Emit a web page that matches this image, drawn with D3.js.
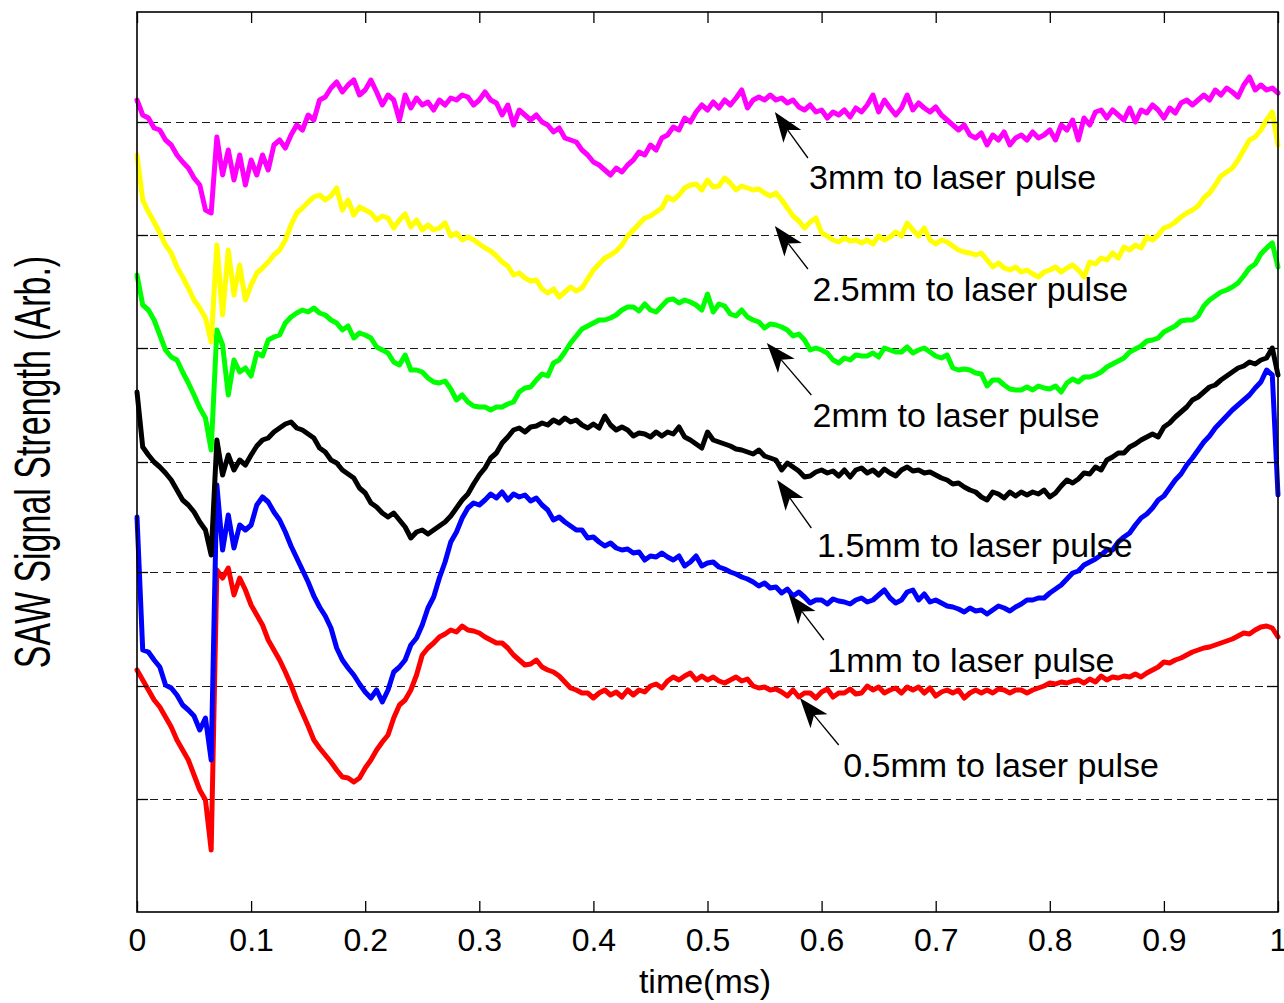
<!DOCTYPE html>
<html><head><meta charset="utf-8">
<script src="https://cdn.jsdelivr.net/npm/d3@7"></script>
<style>
body{margin:0;background:#fff}
svg{display:block}
text{font-family:"Liberation Sans",Arial,Helvetica,sans-serif;fill:#000}
</style>
</head><body><div id="chart"></div>
<script>
// ---------- data ----------
const sampleStepMs = 0.005;           // time step between samples (ms)
const xTickValues = [0,0.1,0.2,0.3,0.4,0.5,0.6,0.7,0.8,0.9,1];
const xTickLabels = ["0","0.1","0.2","0.3","0.4","0.5","0.6","0.7","0.8","0.9","1"];
const gridValues = [1.13,2.26,3.40,4.50,5.64,6.77,7.90];

const seriesNames  = ["0.5mm","1mm","1.5mm","2mm","2.5mm","3mm"];
const seriesColors = ["#ff0000","#0000ff","#000000","#00ff00","#ffff00","#ff00ff"];

const sig05mm = [
2.42,2.32,2.22,2.12,2.05,1.95,1.85,1.72,1.62,1.52,
1.37,1.22,1.12,0.62,3.42,3.34,3.44,3.17,3.34,3.22,
3.07,2.97,2.87,2.72,2.62,2.52,2.40,2.27,2.12,1.99,
1.86,1.72,1.64,1.57,1.50,1.42,1.35,1.34,1.30,1.34,
1.44,1.52,1.62,1.70,1.77,1.94,2.07,2.12,2.22,2.37,
2.57,2.64,2.69,2.75,2.78,2.82,2.80,2.86,2.82,2.81,
2.79,2.75,2.72,2.69,2.69,2.64,2.57,2.52,2.47,2.48,
2.52,2.45,2.42,2.40,2.36,2.30,2.24,2.22,2.19,2.19,
2.14,2.19,2.22,2.17,2.20,2.15,2.22,2.17,2.22,2.20,
2.26,2.28,2.24,2.31,2.35,2.32,2.36,2.39,2.32,2.36,
2.32,2.35,2.31,2.29,2.32,2.35,2.31,2.33,2.26,2.24,
2.25,2.22,2.23,2.20,2.16,2.22,2.15,2.19,2.19,2.14,
2.20,2.23,2.15,2.19,2.19,2.23,2.18,2.19,2.26,2.22,
2.25,2.19,2.22,2.24,2.19,2.25,2.22,2.25,2.19,2.24,
2.16,2.20,2.22,2.19,2.22,2.14,2.19,2.22,2.19,2.22,
2.19,2.23,2.22,2.19,2.22,2.22,2.19,2.22,2.24,2.26,
2.29,2.28,2.30,2.29,2.31,2.32,2.29,2.33,2.30,2.36,
2.32,2.35,2.34,2.36,2.35,2.38,2.35,2.39,2.42,2.45,
2.50,2.49,2.52,2.54,2.57,2.60,2.62,2.64,2.65,2.67,
2.69,2.71,2.73,2.76,2.79,2.78,2.82,2.85,2.86,2.84,
2.75];

const sig1mm = [
3.95,2.62,2.60,2.52,2.45,2.27,2.24,2.17,2.07,2.02,
1.96,1.82,1.94,1.52,4.27,3.62,3.97,3.64,3.87,3.82,
3.87,4.07,4.15,4.10,4.00,3.92,3.80,3.66,3.54,3.42,
3.30,3.16,3.05,2.96,2.84,2.64,2.52,2.44,2.37,2.28,
2.20,2.14,2.22,2.10,2.22,2.40,2.45,2.52,2.67,2.74,
2.87,3.04,3.15,3.34,3.50,3.70,3.80,3.94,4.04,4.09,
4.07,4.12,4.18,4.14,4.20,4.12,4.18,4.15,4.17,4.11,
4.14,4.07,4.02,3.92,3.95,3.90,3.86,3.82,3.82,3.74,
3.75,3.70,3.66,3.69,3.64,3.62,3.63,3.59,3.60,3.52,
3.56,3.55,3.59,3.55,3.52,3.56,3.46,3.50,3.56,3.46,
3.49,3.50,3.45,3.43,3.40,3.38,3.35,3.33,3.30,3.26,
3.29,3.24,3.25,3.19,3.23,3.16,3.20,3.15,3.09,3.12,
3.12,3.08,3.13,3.11,3.10,3.08,3.12,3.14,3.10,3.12,
3.17,3.22,3.14,3.09,3.12,3.20,3.22,3.12,3.18,3.10,
3.12,3.09,3.06,3.05,3.03,3.00,3.04,3.01,3.02,2.98,
3.02,3.06,3.04,3.01,3.05,3.08,3.12,3.12,3.14,3.14,
3.19,3.23,3.27,3.33,3.39,3.41,3.47,3.50,3.53,3.57,
3.62,3.62,3.70,3.75,3.79,3.87,3.94,3.98,4.04,4.12,
4.16,4.24,4.32,4.38,4.47,4.54,4.62,4.70,4.76,4.84,
4.90,4.96,5.02,5.07,5.12,5.17,5.24,5.30,5.42,5.37,
4.17];

const sig15mm = [
5.20,4.65,4.57,4.50,4.45,4.39,4.32,4.22,4.12,4.07,
4.00,3.90,3.82,3.57,4.72,4.37,4.57,4.42,4.52,4.47,
4.57,4.66,4.72,4.74,4.80,4.84,4.88,4.90,4.84,4.82,
4.78,4.74,4.64,4.60,4.52,4.49,4.42,4.38,4.34,4.24,
4.19,4.09,4.05,3.99,3.95,3.99,3.92,3.85,3.74,3.80,
3.82,3.78,3.82,3.86,3.90,3.96,4.04,4.12,4.18,4.28,
4.37,4.44,4.54,4.59,4.69,4.75,4.82,4.84,4.80,4.85,
4.86,4.89,4.87,4.92,4.89,4.94,4.90,4.92,4.87,4.84,
4.88,4.84,4.96,4.87,4.82,4.85,4.82,4.76,4.79,4.78,
4.75,4.80,4.76,4.80,4.78,4.85,4.75,4.72,4.68,4.64,
4.80,4.72,4.70,4.68,4.66,4.63,4.62,4.60,4.58,4.62,
4.56,4.54,4.52,4.42,4.49,4.45,4.41,4.35,4.36,4.40,
4.42,4.39,4.41,4.36,4.42,4.35,4.42,4.44,4.39,4.42,
4.37,4.43,4.39,4.36,4.42,4.45,4.41,4.42,4.39,4.40,
4.37,4.34,4.32,4.28,4.29,4.25,4.22,4.20,4.15,4.12,
4.20,4.18,4.14,4.20,4.16,4.20,4.17,4.20,4.18,4.22,
4.15,4.19,4.26,4.32,4.29,4.33,4.39,4.38,4.45,4.42,
4.52,4.55,4.59,4.59,4.65,4.68,4.72,4.75,4.78,4.75,
4.85,4.89,4.95,5.00,5.05,5.12,5.15,5.20,5.25,5.27,
5.32,5.36,5.40,5.44,5.46,5.50,5.48,5.52,5.54,5.64,
5.37];

const sig2mm = [
6.37,6.07,6.02,5.92,5.77,5.62,5.55,5.52,5.40,5.29,
5.17,5.04,4.94,4.62,5.82,5.67,5.17,5.52,5.40,5.44,
5.36,5.59,5.56,5.72,5.75,5.77,5.89,5.95,5.99,6.02,
6.00,6.04,5.99,5.97,5.92,5.89,5.82,5.86,5.74,5.79,
5.77,5.74,5.65,5.62,5.59,5.50,5.47,5.57,5.42,5.42,
5.40,5.34,5.30,5.29,5.31,5.23,5.12,5.17,5.10,5.06,
5.05,5.05,5.02,5.05,5.05,5.08,5.10,5.20,5.24,5.25,
5.32,5.38,5.36,5.49,5.52,5.60,5.69,5.76,5.83,5.86,
5.89,5.92,5.92,5.94,5.97,6.02,6.05,6.05,6.01,6.08,
6.02,6.00,6.06,6.12,6.13,6.09,6.12,6.10,6.07,6.02,
6.18,6.00,6.08,6.06,5.98,5.96,6.02,5.95,5.92,5.90,
5.84,5.88,5.87,5.85,5.82,5.76,5.78,5.72,5.62,5.64,
5.62,5.59,5.52,5.49,5.54,5.52,5.57,5.56,5.56,5.59,
5.55,5.64,5.62,5.60,5.60,5.65,5.59,5.62,5.64,5.60,
5.56,5.54,5.57,5.44,5.42,5.43,5.42,5.39,5.38,5.26,
5.32,5.32,5.27,5.23,5.22,5.22,5.25,5.22,5.26,5.24,
5.23,5.26,5.20,5.29,5.33,5.30,5.35,5.35,5.37,5.40,
5.45,5.48,5.51,5.54,5.60,5.63,5.66,5.71,5.72,5.74,
5.80,5.83,5.86,5.91,5.92,5.92,5.96,6.06,6.12,6.16,
6.20,6.22,6.25,6.29,6.36,6.44,6.48,6.58,6.64,6.69,
6.45];

const sig25mm = [
7.57,7.12,7.00,6.90,6.79,6.67,6.59,6.45,6.35,6.24,
6.12,6.04,5.94,5.70,6.67,5.97,6.62,6.17,6.47,6.12,
6.27,6.39,6.44,6.50,6.57,6.62,6.72,6.87,6.99,7.04,
7.10,7.15,7.17,7.12,7.16,7.24,7.02,7.12,6.97,7.05,
7.02,6.99,6.92,6.96,6.94,6.84,6.92,6.98,6.85,6.92,
6.82,6.87,6.82,6.84,6.89,6.76,6.79,6.72,6.75,6.72,
6.68,6.64,6.61,6.56,6.50,6.46,6.37,6.39,6.34,6.31,
6.32,6.23,6.19,6.23,6.15,6.20,6.25,6.21,6.24,6.33,
6.42,6.48,6.54,6.57,6.61,6.67,6.76,6.82,6.88,6.94,
6.96,7.00,7.04,7.15,7.12,7.17,7.24,7.27,7.28,7.22,
7.32,7.25,7.26,7.34,7.29,7.22,7.26,7.24,7.22,7.23,
7.19,7.16,7.19,7.12,7.04,6.96,6.91,6.84,6.90,6.94,
6.79,6.76,6.72,6.70,6.74,6.71,6.72,6.69,6.72,6.68,
6.76,6.72,6.75,6.80,6.76,6.89,6.82,6.76,6.84,6.72,
6.68,6.72,6.70,6.66,6.62,6.60,6.59,6.57,6.59,6.52,
6.45,6.49,6.44,6.42,6.45,6.40,6.42,6.38,6.35,6.40,
6.42,6.45,6.40,6.44,6.47,6.42,6.35,6.50,6.48,6.54,
6.52,6.59,6.54,6.65,6.62,6.67,6.64,6.75,6.72,6.77,
6.84,6.86,6.90,6.95,6.99,7.02,7.06,7.14,7.19,7.27,
7.36,7.40,7.44,7.52,7.62,7.72,7.75,7.82,7.92,8.00,
7.67];

const sig3mm = [
8.12,7.97,7.94,7.84,7.82,7.72,7.67,7.57,7.50,7.44,
7.34,7.27,7.02,6.99,7.75,7.37,7.62,7.32,7.57,7.27,
7.52,7.37,7.57,7.42,7.67,7.72,7.64,7.77,7.87,7.82,
7.97,7.92,8.12,8.15,8.24,8.30,8.20,8.27,8.32,8.17,
8.22,8.32,8.20,8.07,8.17,8.12,7.92,8.17,8.04,8.14,
8.07,8.10,8.02,8.12,8.07,8.14,8.12,8.17,8.15,8.07,
8.12,8.20,8.12,8.09,7.97,8.07,7.87,8.02,7.97,7.92,
7.97,7.90,7.87,7.80,7.84,7.74,7.72,7.70,7.62,7.57,
7.50,7.47,7.42,7.37,7.44,7.40,7.47,7.52,7.60,7.57,
7.67,7.62,7.74,7.77,7.85,7.82,7.94,7.90,8.00,8.07,
8.02,8.10,8.04,8.12,8.07,8.14,8.22,8.04,8.12,8.15,
8.12,8.17,8.12,8.14,8.09,8.12,8.05,8.02,8.07,8.00,
8.02,7.94,8.00,7.97,8.02,7.95,8.04,8.00,8.07,8.17,
8.00,8.12,8.04,7.97,8.04,8.17,8.02,8.09,8.04,8.00,
8.05,7.97,7.92,7.87,7.82,7.87,7.77,7.74,7.79,7.67,
7.77,7.72,7.80,7.67,7.74,7.77,7.72,7.80,7.74,7.77,
7.82,7.72,7.87,7.82,7.92,7.72,7.94,7.87,8.00,8.02,
7.94,8.02,7.97,7.92,8.04,7.90,8.02,7.99,8.07,8.02,
7.94,8.04,7.99,8.09,8.12,8.07,8.12,8.17,8.12,8.22,
8.17,8.24,8.20,8.15,8.27,8.35,8.22,8.27,8.22,8.24,
8.19];

const seriesValues = [sig05mm, sig1mm, sig15mm, sig2mm, sig25mm, sig3mm];

// annotations: label text, arrow tip, arrow tail, text anchor (time ms, signal)
const annoLabels = ["3mm to laser pulse","2.5mm to laser pulse","2mm to laser pulse",
                    "1.5mm to laser pulse","1mm to laser pulse","0.5mm to laser pulse"];
const annoTip  = [[0.559,8.00],[0.559,6.86],[0.552,5.69],[0.561,4.32],[0.571,3.18],[0.581,2.14]];
const annoTail = [[0.588,7.54],[0.588,6.43],[0.591,5.17],[0.591,3.84],[0.602,2.72],[0.615,1.67]];
const annoText = [[0.589,7.23],[0.592,6.11],[0.592,4.85],[0.596,3.55],[0.605,2.40],[0.619,1.35]];

const xLabel = "time(ms)";
const yLabel = "SAW Signal Strength (Arb.)";

// ---------- chart ----------
(function draw() {
const W = 1284, H = 1003;
const plot = {left:137, right:1278, top:12, bottom:912};

const svg = d3.select("#chart").append("svg").attr("width", W).attr("height", H);
svg.append("rect").attr("width", W).attr("height", H).attr("fill", "#fff");

const x = d3.scaleLinear().domain([0, 1]).range([plot.left, plot.right]);
const y = d3.scaleLinear().domain([0, 9]).range([plot.bottom, plot.top]);

// grid
svg.append("g").selectAll("line").data(gridValues).join("line")
  .attr("x1", plot.left).attr("x2", plot.right)
  .attr("y1", d => Math.round(y(d)) + 0.5).attr("y2", d => Math.round(y(d)) + 0.5)
  .attr("stroke", "#1a1a1a").attr("stroke-width", 1)
  .attr("stroke-dasharray", "8,5")
  .attr("shape-rendering", "crispEdges");

// series
const line = d3.line()
  .x((d, i) => x(i * sampleStepMs))
  .y(d => y(d));

svg.append("g").selectAll("path").data(seriesValues).join("path")
  .attr("d", d => line(d))
  .attr("fill", "none")
  .attr("stroke", (d, i) => seriesColors[i])
  .attr("stroke-width", 5)
  .attr("stroke-linejoin", "round")
  .attr("stroke-linecap", "round");

// axes
const gBottom = svg.append("g").attr("transform", `translate(0,${plot.bottom})`)
  .call(d3.axisBottom(x).tickValues(xTickValues)
        .tickFormat((d, i) => xTickLabels[i]).tickSizeInner(-11).tickSizeOuter(0).tickPadding(16));
const gTop = svg.append("g").attr("transform", `translate(0,${plot.top})`)
  .call(d3.axisTop(x).tickValues(xTickValues).tickFormat("").tickSizeInner(-11).tickSizeOuter(0));
const gLeft = svg.append("g").attr("transform", `translate(${plot.left},0)`)
  .call(d3.axisLeft(y).tickValues(gridValues).tickFormat("").tickSizeInner(-11).tickSizeOuter(0));
const gRight = svg.append("g").attr("transform", `translate(${plot.right},0)`)
  .call(d3.axisRight(y).tickValues(gridValues).tickFormat("").tickSizeInner(-11).tickSizeOuter(0));

[gBottom, gTop, gLeft, gRight].forEach(g => {
  g.select(".domain").remove();
  g.selectAll(".tick line").attr("stroke", "#000").attr("stroke-width", 1.3);
});
gBottom.selectAll(".tick text")
  .attr("font-size", "32px")
  .attr("font-family", '"Liberation Sans",Arial,Helvetica,sans-serif')
  .attr("fill", "#000");

// frame
svg.append("rect")
  .attr("x", plot.left).attr("y", plot.top)
  .attr("width", plot.right - plot.left).attr("height", plot.bottom - plot.top)
  .attr("fill", "none").attr("stroke", "#000").attr("stroke-width", 1.6);

// annotations
const anno = svg.append("g");
annoLabels.forEach((lab, i) => {
  const tx = x(annoTip[i][0]), ty = y(annoTip[i][1]);
  const sx = x(annoTail[i][0]), sy = y(annoTail[i][1]);
  const dx = sx - tx, dy = sy - ty, len = Math.hypot(dx, dy);
  const ux = dx / len, uy = dy / len, nx = -uy, ny = ux;
  const L = 30, Wd = 11, notch = 0.74;
  anno.append("line")
    .attr("x1", sx).attr("y1", sy)
    .attr("x2", tx + ux * L * notch).attr("y2", ty + uy * L * notch)
    .attr("stroke", "#000").attr("stroke-width", 1.3);
  const head = [
    [tx, ty],
    [tx + ux * L + nx * Wd, ty + uy * L + ny * Wd],
    [tx + ux * L * notch, ty + uy * L * notch],
    [tx + ux * L - nx * Wd, ty + uy * L - ny * Wd]
  ];
  anno.append("path")
    .attr("d", "M" + head.map(p => p.join(",")).join("L") + "Z")
    .attr("fill", "#000");
  anno.append("text")
    .attr("x", x(annoText[i][0])).attr("y", y(annoText[i][1]))
    .attr("font-size", "34px")
    .text(lab);
});

// axis labels
svg.append("text")
  .attr("x", 705).attr("y", 993)
  .attr("text-anchor", "middle")
  .attr("font-size", "34px")
  .text(xLabel);

svg.append("text")
  .attr("transform", "translate(50,462) rotate(-90) scale(1,1.45)")
  .attr("text-anchor", "middle")
  .attr("font-size", "34px")
  .text(yLabel);
})();
</script>
</body></html>
